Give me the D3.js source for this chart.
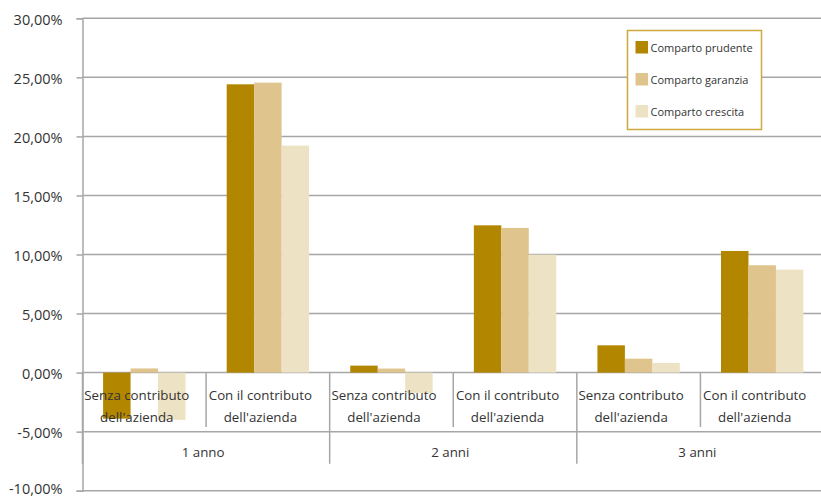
<!DOCTYPE html>
<html>
<head>
<meta charset="utf-8">
<script src="https://cdn.jsdelivr.net/npm/d3@7"></script>
<style>
  html, body { margin: 0; padding: 0; background: #fff; }
  svg { display: block; font-family: "Open Sans", sans-serif; }
</style>
</head>
<body>
<svg id="chart" width="821" height="499"></svg>
<script>
// Rendimenti per comparto, per orizzonte temporale e con/senza contributo aziendale (%)
const periods = ["1 anno", "2 anni", "3 anni"];
const subCategories = ["Senza contributo\ndell'azienda", "Con il contributo\ndell'azienda"];
const seriesNames = ["Comparto prudente", "Comparto garanzia", "Comparto crescita"];
const seriesColors = ["#B38600", "#DFC48D", "#EDE2C3"];

const prudente = [-3.9, 24.41, 0.59, 12.47, 2.31, 10.3];
const garanzia = [0.35, 24.55, 0.34, 12.25, 1.18, 9.09];
const crescita = [-4.0, 19.22, -1.72, 9.99, 0.81, 8.72];

const yTicks = [-10, -5, 0, 5, 10, 15, 20, 25, 30];
const fmtPct = v => d3.format(".2f")(v).replace(".", ",").replace("\u2212", "-") + "%";

const svg = d3.select("#chart");
const plotLeft = 82.5, plotRight = 824, plotTop = 18.3, plotBottom = 490.7;

const y = d3.scaleLinear().domain([-10, 30]).range([plotBottom, plotTop]);

// one slot per (period, sub-category)
const slots = [];
periods.forEach((p, i) => subCategories.forEach((s, j) => slots.push({ period: p, sub: s, idx: i * 2 + j })));
const x0 = d3.scaleBand().domain(slots.map(d => d.idx)).range([plotLeft, plotRight]).padding(0);
const x1 = d3.scaleBand().domain(seriesNames).range([0, x0.bandwidth()]).paddingInner(0).paddingOuter(0.75);
const xp = d3.scaleBand().domain(periods).range([plotLeft, plotRight]).padding(0);

const gridColor = "#A6A6A6";
const textColor = "#333";

// horizontal gridlines with tick labels
const yAxis = d3.axisLeft(y).tickValues(yTicks).tickFormat(fmtPct).tickSize(6).tickPadding(14);
const gy = svg.append("g").attr("transform", `translate(${plotLeft},0)`).call(yAxis);
gy.select(".domain").attr("stroke", gridColor).attr("stroke-width", 1.5);
gy.selectAll(".tick line").attr("stroke", gridColor).attr("stroke-width", 1.5);
gy.selectAll(".tick text").attr("fill", textColor).attr("font-size", 14.5)
  .attr("font-family", "'Open Sans', sans-serif")
  .attr("dy", d => d === yTicks[0] ? "0.22em" : "0.4em"); // lowest label kept inside the frame

svg.append("g").selectAll("line").data(yTicks).join("line")
  .attr("x1", plotLeft).attr("x2", plotRight)
  .attr("y1", d => y(d)).attr("y2", d => y(d))
  .attr("stroke", gridColor).attr("stroke-width", 1.5);

// bars
const values = [prudente, garanzia, crescita];
const barData = [];
seriesNames.forEach((name, k) => values[k].forEach((v, i) => barData.push({ name, k, i, v })));
svg.append("g").selectAll("rect").data(barData).join("rect")
  .attr("x", d => x0(d.i) + x1(d.name))
  .attr("width", x1.bandwidth())
  .attr("y", d => y(Math.max(0, d.v)))
  .attr("height", d => Math.abs(y(d.v) - y(0)))
  .attr("fill", d => seriesColors[d.k]);

// category axis: separators
const sepG = svg.append("g").attr("stroke", gridColor).attr("stroke-width", 1.5);
slots.filter(d => d.idx % 2 === 1).forEach(d => {
  sepG.append("line").attr("x1", x0(d.idx)).attr("x2", x0(d.idx))
    .attr("y1", y(0)).attr("y2", y(-4.6));
});
periods.forEach(p => {
  sepG.append("line").attr("x1", xp(p)).attr("x2", xp(p))
    .attr("y1", y(0)).attr("y2", y(-7.72));
});

// sub-category labels (two lines, drawn over the bars)
const subG = svg.append("g").attr("fill", textColor).attr("font-size", 13.3).attr("text-anchor", "middle");
slots.forEach(d => {
  const cx = x0(d.idx) + x0.bandwidth() / 2 - 7.5;
  const t = subG.append("text").attr("x", cx).attr("y", 400);
  d.sub.split("\n").forEach((line, li) => {
    t.append("tspan").attr("x", cx).attr("dy", li === 0 ? 0 : 22).text(line);
  });
});

// period labels
svg.append("g").attr("fill", textColor).attr("font-size", 13.3).attr("text-anchor", "middle")
  .selectAll("text").data(periods).join("text")
  .attr("x", d => xp(d) + xp.bandwidth() / 2 - 3)
  .attr("y", 457)
  .text(d => d);

// legend
const lg = svg.append("g").attr("transform", "translate(627.5,30.5)");
lg.append("rect").attr("width", 134).attr("height", 99)
  .attr("fill", "#fff").attr("stroke", "#CFA93C").attr("stroke-width", 1.5);
const rows = lg.selectAll("g").data(seriesNames).join("g")
  .attr("transform", (d, i) => `translate(8,${10.5 + i * 32})`);
rows.append("rect").attr("width", 12.5).attr("height", 12.5).attr("fill", (d, i) => seriesColors[i]);
rows.append("text").attr("x", 15).attr("y", 10.5).attr("font-size", 11).attr("fill", textColor).text(d => d);
</script>
</body>
</html>
